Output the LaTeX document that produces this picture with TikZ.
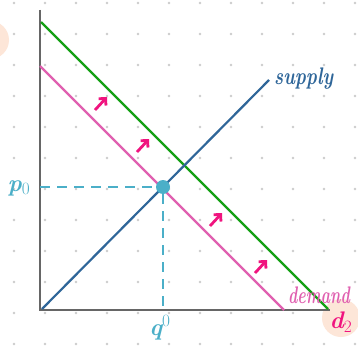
\documentclass[tikz,border=0pt]{standalone}
\usepackage{fontspec}
\usetikzlibrary{arrows.meta}
\definecolor{axisgray}{HTML}{666666}
\definecolor{dotgray}{HTML}{CCCCCC}
\definecolor{supplyblue}{HTML}{2F6699}
\definecolor{demandpink}{HTML}{E060B0}
\definecolor{shiftgreen}{HTML}{14A014}
\definecolor{arrowmag}{HTML}{F0147F}
\definecolor{eqteal}{HTML}{4BAFC8}
\definecolor{peach}{HTML}{FDE6D8}
\tikzset{
  axisline/.style={draw=axisgray, line width=2.8pt},
  curveline/.style={line width=2.2pt},
  shiftarrow/.style={draw=arrowmag, line width=2.8pt, -{Straight Barb[length=5pt,width=10pt]}},
  guide/.style={draw=eqteal, line width=1.8pt, dash pattern=on 10pt off 7pt},
  hand/.style={font=\itshape\bfseries\fontsize{24}{24}\selectfont, inner sep=0pt},
}
\begin{document}
\begin{tikzpicture}[x=1pt,y=-1pt]
\useasboundingbox (0,0) rectangle (358,353);
\fill[white] (0,0) rectangle (358,353);
% dot grid
\foreach \i in {0,...,11} {
  \foreach \j in {0,...,11} {
    \fill[dotgray] ({14+31*\i},{3+31*\j}) circle (1.4);
  }
}
% peach blobs
\fill[peach] (-10,40) circle (19);
\fill[peach] (341,318) circle (19);
% axes
\coordinate (top) at (40,10);
\coordinate (origin) at (40,310);
\coordinate (xend) at (330,310);
\draw[axisline] (top) -- (origin) -- (xend);
% curves
\coordinate (g1) at (41,22);
\coordinate (g2) at (328,309);
\coordinate (d1) at (40,66);
\coordinate (d2) at (284,310);
\coordinate (s1) at (42,309);
\coordinate (s2) at (269,80);
\draw[curveline, draw=demandpink] (d1) -- (d2);
\draw[curveline, draw=shiftgreen] (g1) -- (g2);
\draw[curveline, draw=supplyblue] (s1) -- (s2);
% equilibrium
\node[circle, fill=eqteal, minimum size=14pt, inner sep=0pt] (eq) at (163,187) {};
\coordinate (py) at (40,187);
\coordinate (qx) at (163,310);
\draw[guide] (py) -- (eq.west);
\draw[guide] (eq.south) -- (qx);
% shift arrows
\coordinate (a1s) at (95,110); \coordinate (a1e) at (107,97);
\coordinate (a2s) at (137,152); \coordinate (a2e) at (149,139);
\coordinate (a3s) at (210,226); \coordinate (a3e) at (222,213);
\coordinate (a4s) at (255,273); \coordinate (a4e) at (267,260);
\draw[shiftarrow] (a1s) -- (a1e);
\draw[shiftarrow] (a2s) -- (a2e);
\draw[shiftarrow] (a3s) -- (a3e);
\draw[shiftarrow] (a4s) -- (a4e);
% labels
\node[hand, text=supplyblue, anchor=base west, xscale=0.78] (slab) at (274,84) {supply};
\node[hand, text=demandpink, anchor=base west, xscale=0.66] (dlab) at (288,303) {demand};
\node[hand, text=arrowmag, anchor=center] (d2lab) at (341,322) {d$_2$};
\node[hand, text=eqteal, anchor=center] (plab) at (19,188) {p$_0$};
\node[hand, text=eqteal, anchor=center] (qlab) at (160,328) {q$^0$};
\end{tikzpicture}
\end{document}
